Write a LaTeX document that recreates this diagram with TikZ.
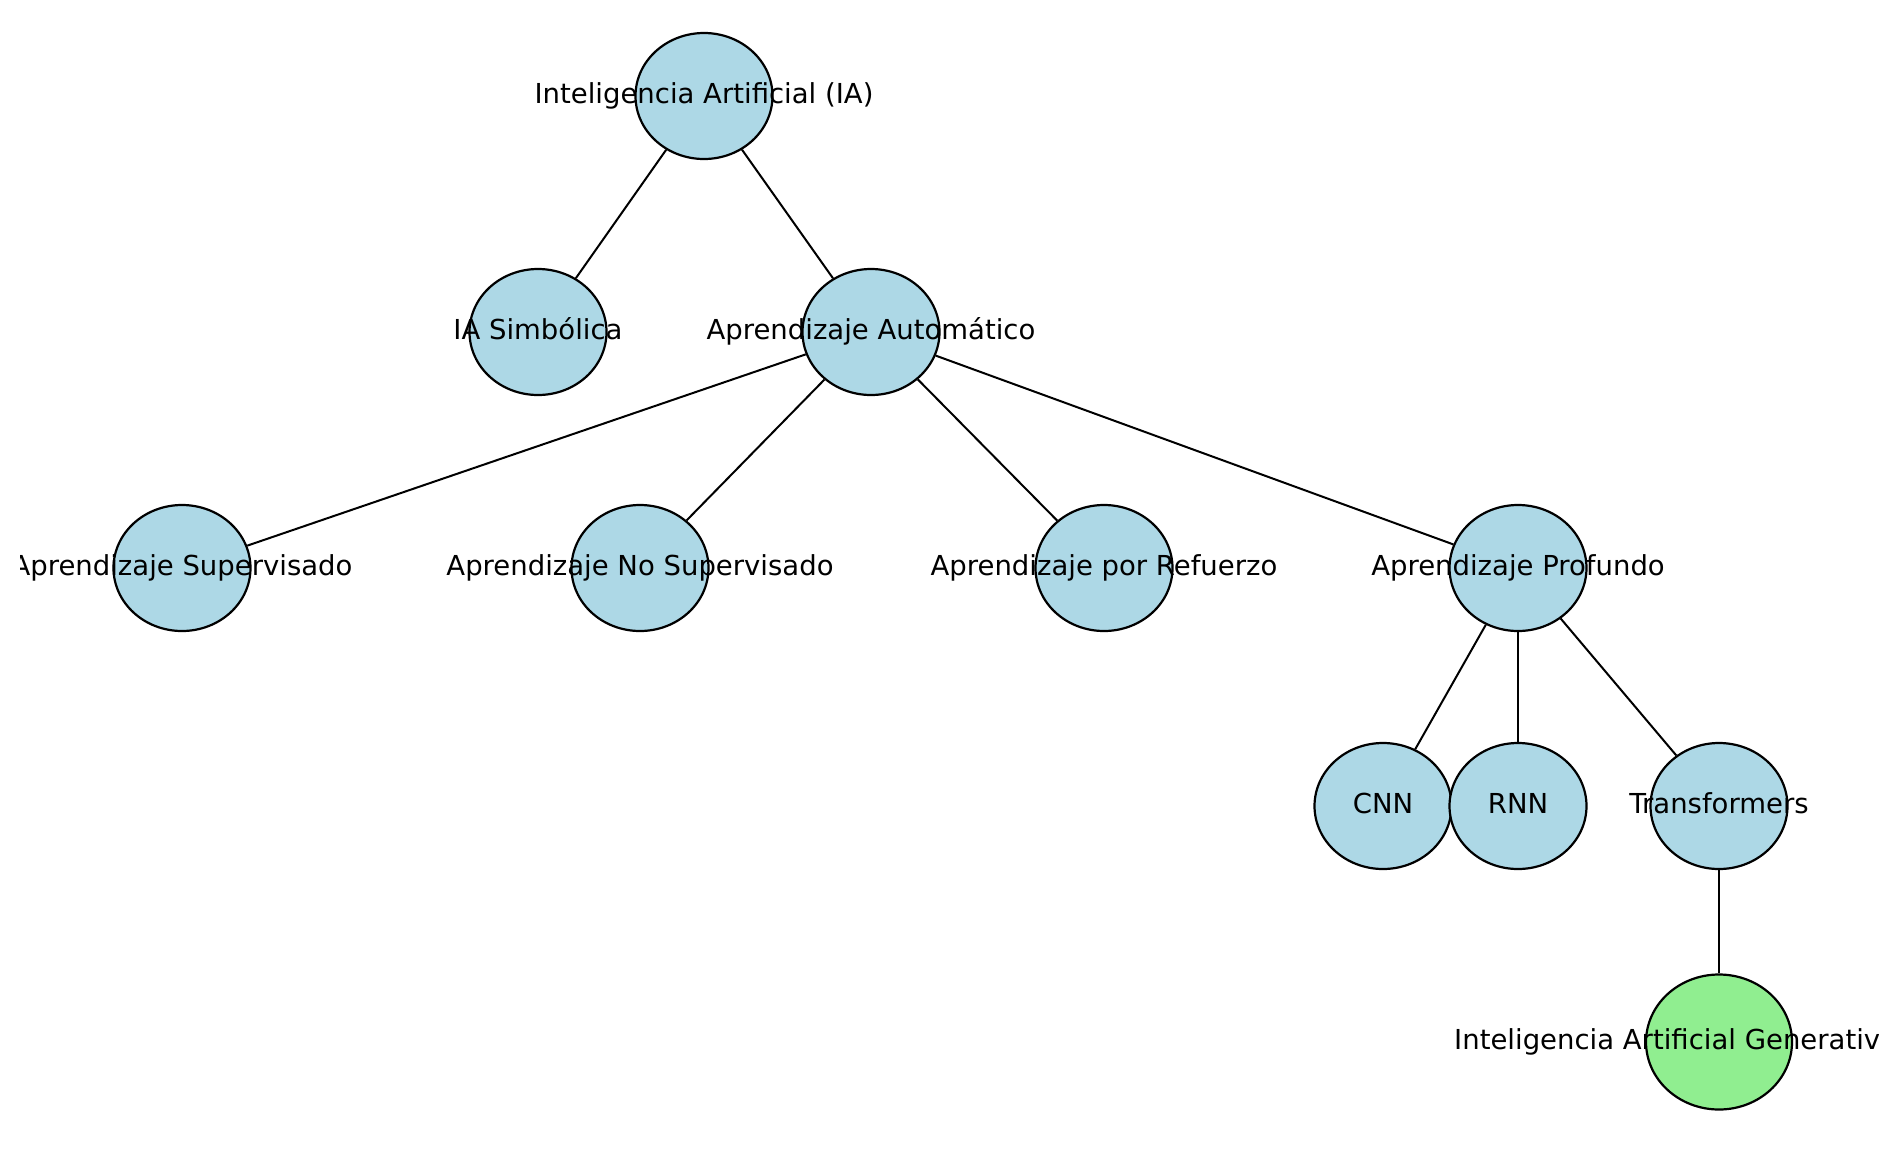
\documentclass[tikz,border=0pt]{standalone}
\usepackage{fontspec}
\setmainfont{DejaVu Sans}
\usetikzlibrary{shapes.geometric}
\definecolor{nodeblue}{HTML}{ADD8E6}
\definecolor{nodegreen}{HTML}{90EE90}
\begin{document}
\begin{tikzpicture}[x=1pt,y=-1pt,
  circ/.style={ellipse, draw=black, line width=2.2pt, fill=nodeblue, minimum width=137pt, minimum height=126pt, inner sep=0pt},
  gen/.style={circ, fill=nodegreen, minimum width=146pt, minimum height=135pt},
  lbl/.style={font=\fontsize{27.5pt}{33pt}\selectfont, inner sep=0pt, text height=21pt, text depth=6.4pt},
  link/.style={line width=2pt, draw=black}]
\useasboundingbox[fill=white] (0,0) rectangle (1900,1160);
\begin{scope}
\clip (20,0) rectangle (1878,1160);
% nodes
\node[circ] (ia)   at (704,96)   {};
\node[circ] (sim)  at (538,332)  {};
\node[circ] (aut)  at (871,332)  {};
\node[circ] (sup)  at (182,568)  {};
\node[circ] (nos)  at (640,568)  {};
\node[circ] (ref)  at (1104,568) {};
\node[circ] (pro)  at (1518,568) {};
\node[circ] (cnn)  at (1383,806) {};
\node[circ] (rnn)  at (1518,806) {};
\node[circ] (tra)  at (1719,806) {};
\node[gen]  (gen)  at (1719,1042) {};
% edges
\draw[link] (ia) -- (sim);
\draw[link] (ia) -- (aut);
\draw[link] (aut) -- (sup);
\draw[link] (aut) -- (nos);
\draw[link] (aut) -- (ref);
\draw[link] (aut) -- (pro);
\draw[link] (pro) -- (cnn);
\draw[link] (pro) -- (rnn);
\draw[link] (pro) -- (tra);
\draw[link] (tra) -- (gen);
% labels
\node[lbl] (tia)  at (ia)  {Inteligencia Artificial (IA)};
\node[lbl] (tsim) at (sim) {IA Simbólica};
\node[lbl] (taut) at (aut) {Aprendizaje Automático};
\node[lbl] (tsup) at (sup) {Aprendizaje Supervisado};
\node[lbl] (tnos) at (nos) {Aprendizaje No Supervisado};
\node[lbl] (tref) at (ref) {Aprendizaje por Refuerzo};
\node[lbl] (tpro) at (pro) {Aprendizaje Profundo};
\node[lbl] (tcnn) at (cnn) {CNN};
\node[lbl] (trnn) at (rnn) {RNN};
\node[lbl] (ttra) at (tra) {Transformers};
\node[lbl, anchor=west] (tgen) at (1454,1042) {Inteligencia Artificial Generativa};
\end{scope}
\end{tikzpicture}
\end{document}
